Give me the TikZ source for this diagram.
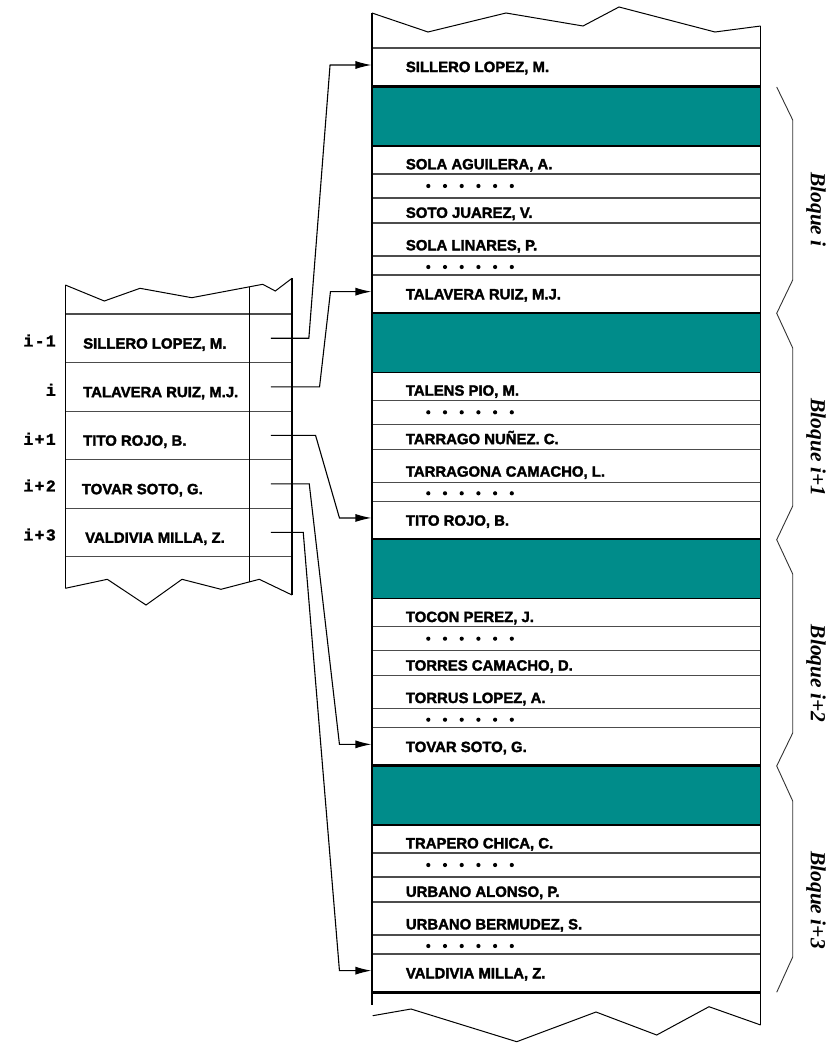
\documentclass[tikz,border=0pt]{standalone}
\usepackage{fontspec}
\setmainfont{Liberation Sans}
\newfontfamily\namefont{Liberation Sans}[BoldFeatures={FakeBold=2}]
\newfontfamily\idxfont{Liberation Mono}[LetterSpace=8, BoldFeatures={FakeBold=1.5}]
\newfontfamily\blqfont{Liberation Serif}
\usetikzlibrary{arrows.meta}
\definecolor{blockteal}{RGB}{0,140,138}
\definecolor{rulegray}{gray}{0.3}

\tikzset{
  cell/.style={draw=rulegray, line width=1.1pt, rectangle, inner sep=0pt, minimum width=388.7pt},
  tealcell/.style={cell, fill=blockteal, draw=black},
  lcell/.style={draw=rulegray, line width=1.1pt, rectangle, inner sep=0pt, minimum height=48.54pt},
  edge/.style={draw=black, line width=1.1pt},
  jag/.style={draw=black, line width=1pt, line join=miter},
  nametext/.style={anchor=west, inner sep=0pt, text height=10.7pt, text depth=0pt,
    font=\namefont\bfseries\fontsize{14.9}{16}\selectfont},
  idxtext/.style={anchor=east, inner sep=0pt, text height=9.5pt, text depth=0pt,
    font=\idxfont\bfseries\fontsize{16.5}{18}\selectfont},
  blqtext/.style={anchor=west, rotate=-90, inner sep=0pt,
    font=\blqfont\bfseries\itshape\fontsize{21.5}{24}\selectfont},
  conn/.style={draw=black, line width=1.1pt, -{Latex[length=16pt,width=8pt]}},
  brace/.style={draw=black!80, line width=0.9pt, line join=miter},
  dot/.style={fill=black}
}

\begin{document}
\begin{tikzpicture}[x=1pt, y=-1pt]
\useasboundingbox (0,0) rectangle (839,1043);

% ---------------- data file (right column) ----------------
% first record above the blocks
\node[cell, minimum height=39pt] (r0) at (566.35,67.5) {};
\node[nametext] (t0) at (405.7,66.7) {SILLERO LOPEZ, M.};

% four blocks: header band plus six records each
\foreach \k/\T/\lab/\na/\nb/\nc/\ne in {
  1/87/{i}/{SOLA AGUILERA, A.}/{SOTO JUAREZ, V.}/{SOLA LINARES, P.}/{TALAVERA RUIZ, M.J.},
  2/313.3/{i+1}/{TALENS PIO, M.}/{TARRAGO NUÑEZ. C.}/{TARRAGONA CAMACHO, L.}/{TITO ROJO, B.},
  3/539.7/{i+2}/{TOCON PEREZ, J.}/{TORRES CAMACHO, D.}/{TORRUS LOPEZ, A.}/{TOVAR SOTO, G.},
  4/766/{i+3}/{TRAPERO CHICA, C.}/{URBANO ALONSO, P.}/{URBANO BERMUDEZ, S.}/{VALDIVIA MILLA, Z.}}
{
  \node[cell, minimum height=28pt]   (a\k)  at (566.35,\T+73)     {};
  \node[cell, minimum height=24pt]   (da\k) at (566.35,\T+99)     {};
  \node[cell, minimum height=25pt]   (b\k)  at (566.35,\T+123.5)  {};
  \node[cell, minimum height=33pt]   (c\k)  at (566.35,\T+152.5)  {};
  \node[cell, minimum height=19pt]   (db\k) at (566.35,\T+178.5)  {};
  \node[cell, minimum height=38.3pt] (e\k)  at (566.35,\T+207.15) {};
  \node[tealcell, minimum height=59pt] (h\k) at (566.35,\T+29.5) {};
  \draw[line width=2.2pt] (h\k.north west) -- (h\k.north east);

  \node[nametext] (ta\k) at (405.7,\T+77)    {\na};
  \node[nametext] (tb\k) at (405.7,\T+125.5) {\nb};
  \node[nametext] (tc\k) at (405.7,\T+158)   {\nc};
  \node[nametext] (te\k) at (405.7,\T+207)   {\ne};
  \foreach \j in {0,...,5} {
    \fill[dot] (428.3+16.7*\j,\T+99) circle (2.1pt);
    \fill[dot] (428.3+16.7*\j,\T+180) circle (2.1pt);
  }
  \node[blqtext] (bl\k) at (816,\T+85) {Bloque \lab};
}
% closing rule under the last block
\draw[line width=3pt] (e4.south west) -- (e4.south east);

% outer edges and torn ends of the file
\draw[edge] (372,13) -- (372,1005);
\draw[edge] (760.7,26) -- (760.7,1025);
\draw[jag] (372,13) -- (428,32) -- (506,13) -- (583,26) -- (619,7) -- (715,32) -- (760.7,26);
\draw[jag] (372.7,1015.7) -- (411,1009) -- (516.7,1041.7) -- (596,1012) -- (656.7,1035) -- (709,1006.7) -- (760.7,1025);

% block brackets
\draw[brace] (776.7,87) -- (792.7,120) -- (792.7,280) -- (776.7,313.3) -- (792.7,348)
  -- (792.7,506) -- (776.7,539.7) -- (792.7,574) -- (792.7,733) -- (776.7,766)
  -- (792.7,801) -- (792.7,957) -- (776.7,992.3);

% ---------------- index table (left) ----------------
\foreach \k/\y/\nm/\nx/\ix/\iy in {
  1/338.27/{SILLERO LOPEZ, M.}/83/{i-1}/341.7,
  2/386.81/{TALAVERA RUIZ, M.J.}/83/{i}/391,
  3/435.35/{TITO ROJO, B.}/83/{i+1}/440,
  4/483.89/{TOVAR SOTO, G.}/81.7/{i+2}/486.7,
  5/532.43/{VALDIVIA MILLA, Z.}/85/{i+3}/535.7}
{
  \node[lcell, minimum width=184.4pt] (nm\k) at (157.5,\y) {};
  \node[lcell, minimum width=42.3pt] (p\k) at (270.85,\y) {};
  \node[nametext] (tl\k) at (\nx,\y+5) {\nm};
  \node[idxtext] (ix\k) at (56,\iy) {\ix};
}
\draw[edge] (65.3,285) -- (65.3,588.3);
\draw[edge] (292,278.3) -- (292,595);
\draw[edge] (249.7,286.8) -- (249.7,581.8);
\draw[jag] (65.3,285) -- (104.3,301) -- (140,288.3) -- (191.7,297.7) -- (262.7,284.3) -- (275.3,291) -- (292,278.3);
\draw[jag] (65.3,588.3) -- (107.3,579.3) -- (146,605) -- (182,579.3) -- (221,589.3) -- (259.3,579.3) -- (292,595);

% ---------------- pointers ----------------
\draw[conn] (p1.center) -- ++(38,0) -- ([xshift=-41.4pt,yshift=2.5pt]r0.west) -- ([yshift=2.5pt]r0.west);
\draw[conn] (p2.center) -- ++(48.7,0) -- ([xshift=-41pt,yshift=2.5pt]e1.west) -- ([yshift=2.5pt]e1.west);
\draw[conn] (p3.center) -- ++(44.7,0) -- ([xshift=-32pt,yshift=2.5pt]e2.west) -- ([yshift=2.5pt]e2.west);
\draw[conn] (p4.center) -- ++(38.4,0) -- ([xshift=-32pt,yshift=2.5pt]e3.west) -- ([yshift=2.5pt]e3.west);
\draw[conn] (p5.center) -- ++(32.4,0) -- ([xshift=-32pt,yshift=2.5pt]e4.west) -- ([yshift=2.5pt]e4.west);
\end{tikzpicture}
\end{document}
